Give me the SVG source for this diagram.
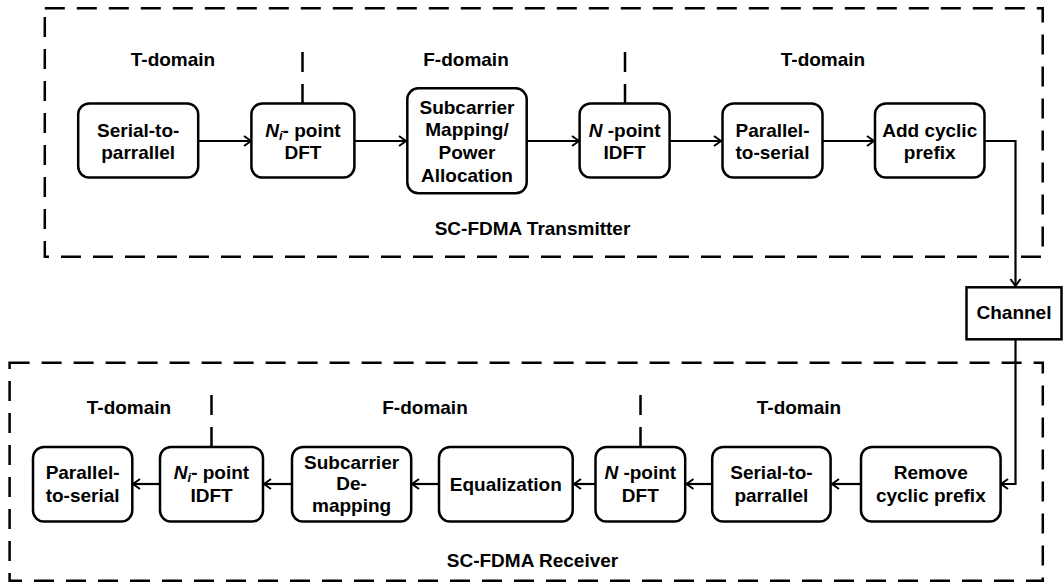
<svg xmlns="http://www.w3.org/2000/svg" width="1063" height="583" viewBox="0 0 1063 583">
<style>
text{font-family:"Liberation Sans",Arial,sans-serif;font-weight:bold;font-size:19px;fill:#000;text-anchor:middle}
.it{font-style:italic}
.node{fill:#fff;stroke:#000;stroke-width:2.5}
.frame{fill:none;stroke:#000;stroke-width:2.5;stroke-dasharray:20 12}
.div{fill:none;stroke:#000;stroke-width:2.5;stroke-dasharray:20 12}
.conn{fill:none;stroke:#000;stroke-width:2.2}
</style>
<defs>
<marker id="arr" markerUnits="userSpaceOnUse" markerWidth="12" markerHeight="14" refX="8" refY="6" orient="auto">
<path d="M1,1 L8,6 L1,11" fill="none" stroke="#000" stroke-width="2"/>
</marker>
</defs>

<g id="frames">
<rect class="frame" x="44.8" y="8.3" width="997.9" height="248.4"/>
<rect class="frame" x="9.6" y="362.7" width="1033.2" height="218"/>
<line class="div" x1="302.5" y1="52" x2="302.5" y2="104"/>
<line class="div" x1="625" y1="52" x2="625" y2="104"/>
<line class="div" x1="211.5" y1="395" x2="211.5" y2="447"/>
<line class="div" x1="640.5" y1="395" x2="640.5" y2="447"/>
</g>

<g id="labels">
<text x="173" y="66">T-domain</text>
<text x="466" y="66">F-domain</text>
<text x="823" y="66">T-domain</text>
<text x="532.5" y="235">SC-FDMA Transmitter</text>
<text x="129" y="413.5">T-domain</text>
<text x="425" y="413.5">F-domain</text>
<text x="799" y="413.5">T-domain</text>
<text x="532.5" y="567">SC-FDMA Receiver</text>
</g>

<g id="connectors">
<line class="conn" x1="198" y1="141" x2="251" y2="141" marker-end="url(#arr)"/>
<line class="conn" x1="354.4" y1="141" x2="406" y2="141" marker-end="url(#arr)"/>
<line class="conn" x1="527" y1="141" x2="579" y2="141" marker-end="url(#arr)"/>
<line class="conn" x1="669.4" y1="141" x2="721" y2="141" marker-end="url(#arr)"/>
<line class="conn" x1="822.3" y1="141" x2="874" y2="141" marker-end="url(#arr)"/>
<polyline class="conn" points="984.5,141 1015.5,141 1015.5,286" marker-end="url(#arr)"/>
<polyline class="conn" points="1015.5,339.3 1015.5,484 1001,484" marker-end="url(#arr)"/>
<line class="conn" x1="861" y1="484" x2="832" y2="484" marker-end="url(#arr)"/>
<line class="conn" x1="712.2" y1="484" x2="686.5" y2="484" marker-end="url(#arr)"/>
<line class="conn" x1="595.5" y1="484" x2="574" y2="484" marker-end="url(#arr)"/>
<line class="conn" x1="439" y1="484" x2="412" y2="484" marker-end="url(#arr)"/>
<line class="conn" x1="292" y1="484" x2="264" y2="484" marker-end="url(#arr)"/>
<line class="conn" x1="160" y1="484" x2="133" y2="484" marker-end="url(#arr)"/>
</g>

<g id="tx-s2p">
<rect class="node" x="78.2" y="103.5" width="120" height="74" rx="11"/>
<text x="138.2" y="136.5">Serial-to-</text>
<text x="138.2" y="158.5">parrallel</text>
</g>
<g id="tx-dft">
<rect class="node" x="251.4" y="103.5" width="103" height="74" rx="11"/>
<text x="302.9" y="136.5"><tspan class="it">N</tspan><tspan class="it" font-size="13" dy="3">i</tspan><tspan dy="-3">- point</tspan></text>
<text x="302.9" y="158.5">DFT</text>
</g>
<g id="tx-map">
<rect class="node" x="407.3" y="88.3" width="119.4" height="105" rx="11"/>
<text x="467" y="113.5">Subcarrier</text>
<text x="467" y="136.2">Mapping/</text>
<text x="467" y="158.9">Power</text>
<text x="467" y="181.6">Allocation</text>
</g>
<g id="tx-idft">
<rect class="node" x="579.6" y="103.5" width="90" height="74" rx="11"/>
<text x="624.6" y="136.5"><tspan class="it">N</tspan> -point</text>
<text x="624.6" y="158.5">IDFT</text>
</g>
<g id="tx-p2s">
<rect class="node" x="722.5" y="103.5" width="100" height="74" rx="11"/>
<text x="772.5" y="136.5">Parallel-</text>
<text x="772.5" y="158.5">to-serial</text>
</g>
<g id="tx-cp">
<rect class="node" x="875" y="103.5" width="109.5" height="74" rx="11"/>
<text x="929.7" y="136.5">Add cyclic</text>
<text x="929.7" y="158.5">prefix</text>
</g>

<g id="channel">
<rect class="node" x="966.5" y="287.3" width="95" height="52"/>
<text x="1014" y="318.5">Channel</text>
</g>

<g id="rx-cp">
<rect class="node" x="861" y="447" width="139.6" height="74.5" rx="11"/>
<text x="930.8" y="479">Remove</text>
<text x="930.8" y="501.5">cyclic prefix</text>
</g>
<g id="rx-s2p">
<rect class="node" x="712.2" y="447" width="118.4" height="74.5" rx="11"/>
<text x="771.4" y="479">Serial-to-</text>
<text x="771.4" y="501.5">parrallel</text>
</g>
<g id="rx-dft">
<rect class="node" x="595.5" y="447" width="89.7" height="74.5" rx="11"/>
<text x="640.3" y="479"><tspan class="it">N</tspan> -point</text>
<text x="640.3" y="501.5">DFT</text>
</g>
<g id="rx-eq">
<rect class="node" x="439" y="447" width="133.7" height="74.5" rx="11"/>
<text x="505.8" y="490.5">Equalization</text>
</g>
<g id="rx-demap">
<rect class="node" x="292" y="447" width="119.2" height="74.5" rx="11"/>
<text x="351.6" y="468.5">Subcarrier</text>
<text x="351.6" y="490">De-</text>
<text x="351.6" y="511.5">mapping</text>
</g>
<g id="rx-idft">
<rect class="node" x="160" y="447" width="103" height="74.5" rx="11"/>
<text x="211.5" y="479"><tspan class="it">N</tspan><tspan class="it" font-size="13" dy="3">i</tspan><tspan dy="-3">- point</tspan></text>
<text x="211.5" y="501.5">IDFT</text>
</g>
<g id="rx-p2s">
<rect class="node" x="33" y="447" width="99.3" height="74.5" rx="11"/>
<text x="82.6" y="479">Parallel-</text>
<text x="82.6" y="501.5">to-serial</text>
</g>
</svg>
